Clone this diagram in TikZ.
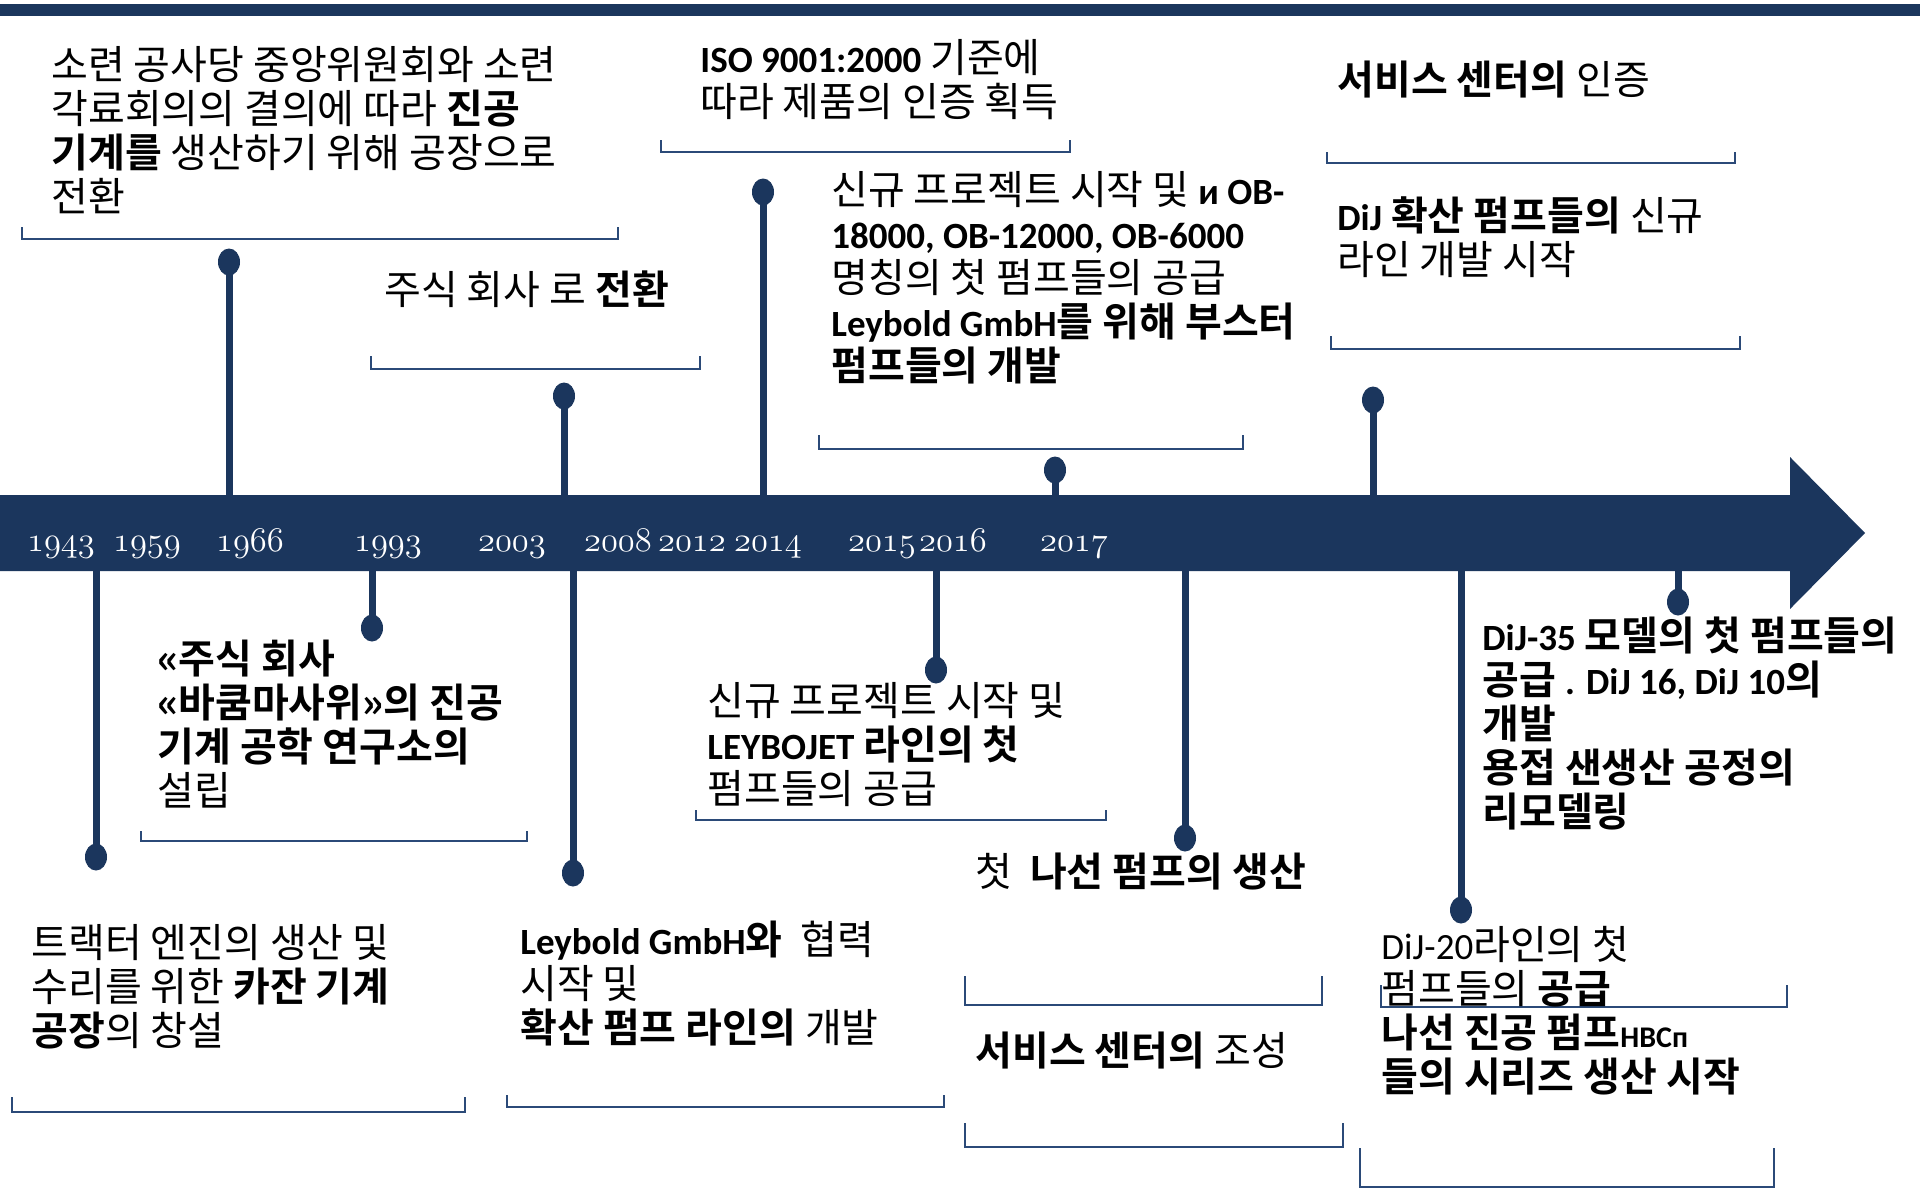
\documentclass[tikz,border=0pt]{standalone}
\usepackage{fontspec}
\setmainfont{Noto Sans CJK KR}[BoldFont={Noto Sans CJK KR Bold}]
\newfontfamily\latfam{Carlito}
\newcommand\lat{\latfam\fontsize{18.5pt}{22pt}\selectfont}
\usetikzlibrary{shapes.geometric}
\definecolor{navy}{HTML}{1B365D}
\definecolor{brk}{HTML}{2B4A78}
\begin{document}
\begin{tikzpicture}[x=0.5pt,y=-0.5pt,
  txt/.style={anchor=base west,align=left,inner sep=0pt,font=\fontsize{20pt}{22pt}\selectfont},
  yr/.style={anchor=base,text=white,inner sep=0pt,font=\fontsize{17pt}{17pt}\selectfont},
  pin/.style={ellipse,fill=navy,inner sep=0pt,minimum width=11pt,minimum height=13.5pt},
  stem/.style={draw=navy,line width=3.5pt},
  brace/.style={draw=brk,line width=1.1pt}]
\useasboundingbox (0,0) rectangle (1920,1189);
\fill[white] (0,0) rectangle (1920,1189);
% top bar
\fill[navy] (0,4) rectangle (1920,16);
% main arrow
\fill[navy] (0,495) -- (1790,495) -- (1790,457) -- (1865,533) -- (1790,609) -- (1790,571) -- (0,571) -- cycle;
% years
\foreach \x/\y in {61/1943,147/1959,250/1966,388/1993,512/2003,618/2008,692/2012,768/2014,882/2015,953/2016,1074/2017}
  \node[yr] (y\y) at (\x,551) {$\mathnormal{\y}$};
% stems up
\foreach \n/\x/\y in {u1/229/262,u2/564/396,u3/763/192,u4/1055/470,u5/1373/400}{
  \coordinate (\n b) at (\x,497);
  \draw[stem] (\n b) -- (\x,\y);
  \node[pin] (\n) at (\x,\y) {};
}
% stems down
\foreach \n/\x/\y in {d1/96/857,d2/372/628,d3/573/873,d4/936/670,d5/1185/838,d6/1461/910,d7/1678/602}{
  \coordinate (\n b) at (\x,569);
  \draw[stem] (\n b) -- (\x,\y);
  \node[pin] (\n) at (\x,\y) {};
}
% brackets
\draw[brace] (22,227) -- (22,239) -- (618,239) -- (618,227);
\draw[brace] (371,356) -- (371,369) -- (700,369) -- (700,356);
\draw[brace] (661,140) -- (661,152) -- (1070,152) -- (1070,140);
\draw[brace] (819,435) -- (819,449) -- (1243,449) -- (1243,435);
\draw[brace] (1327,152) -- (1327,163) -- (1735,163) -- (1735,152);
\draw[brace] (1331,336) -- (1331,349) -- (1740,349) -- (1740,336);
\draw[brace] (141,831) -- (141,841) -- (527,841) -- (527,831);
\draw[brace] (12,1097) -- (12,1112) -- (465,1112) -- (465,1097);
\draw[brace] (507,1095) -- (507,1107) -- (944,1107) -- (944,1095);
\draw[brace] (696,810) -- (696,820) -- (1106,820) -- (1106,810);
\draw[brace] (965,976) -- (965,1005) -- (1322,1005) -- (1322,976);
\draw[brace] (965,1123) -- (965,1147) -- (1343,1147) -- (1343,1123);
\draw[brace] (1381,985) -- (1381,1007) -- (1787,1007) -- (1787,985);
\draw[brace] (1360,1148) -- (1360,1187) -- (1774,1187) -- (1774,1148);
% texts top (anchor = baseline of the last line)
\node[txt] (t1) at (51,211) {소련 공사당 중앙위원회와 소련\\각료회의의 결의에 따라 \textbf{진공}\\\textbf{기계를} 생산하기 위해 공장으로\\전환};
\node[txt] (t2) at (384,304) {주식 회사 로 \textbf{전환}};
\node[txt] (t3) at (700,116) {\textbf{\lat ISO 9001:2000} 기준에\\따라 제품의 인증 획득};
\node[txt] (t4) at (831,380) {신규 프로젝트 시작 및 \textbf{\lat и OB-}\\\textbf{\lat 18000, OB-12000, OB-6000}\\명칭의 첫 펌프들의 공급\\\textbf{{\lat Leybold GmbH}를 위해 부스터}\\\textbf{펌프들의 개발}};
\node[txt] (t5) at (1337,94) {\textbf{서비스 센터의} 인증};
\node[txt] (t6) at (1337,274) {\textbf{{\lat DiJ} 확산 펌프들의} 신규\\라인 개발 시작};
% texts bottom
\node[txt] (t7) at (157,805) {\textbf{«주식 회사}\\\textbf{«바쿰마사위»의 진공}\\\textbf{기계 공학 연구소의}\\설립};
\node[txt] (t8) at (31,1045) {트랙터 엔진의 생산 및\\수리를 위한 \textbf{카잔 기계}\\\textbf{공장}의 창설};
\node[txt] (t9) at (520,1042) {\textbf{{\lat Leybold GmbH}와}\ \ 협력\\시작 및\\\textbf{확산 펌프 라인의} 개발};
\node[txt] (t10) at (707,803) {신규 프로젝트 시작 및\\\textbf{{\lat LEYBOJET} 라인의 첫}\\펌프들의 공급};
\node[txt] (t11) at (975,886) {첫\ \ \textbf{나선 펌프의 생산}};
\node[txt] (t12) at (975,1065) {\textbf{서비스 센터의} 조성};
\node[txt] (t13) at (1381,1091) {{\lat DiJ-20}라인의 첫\\펌프들의 \textbf{공급}\\\textbf{나선 진공 펌프{\latfam\fontsize{15pt}{15pt}\selectfont HBCп}}\\\textbf{들의 시리즈 생산 시작}};
\node[txt] (t14) at (1482,826) {\textbf{{\lat DiJ-35} 모델의 첫 펌프들의}\\\textbf{공급 {\lat . DiJ 16, DiJ 10}의}\\\textbf{개발}\\\textbf{용접 샌생산 공정의}\\\textbf{리모델링}};
\end{tikzpicture}
\end{document}
